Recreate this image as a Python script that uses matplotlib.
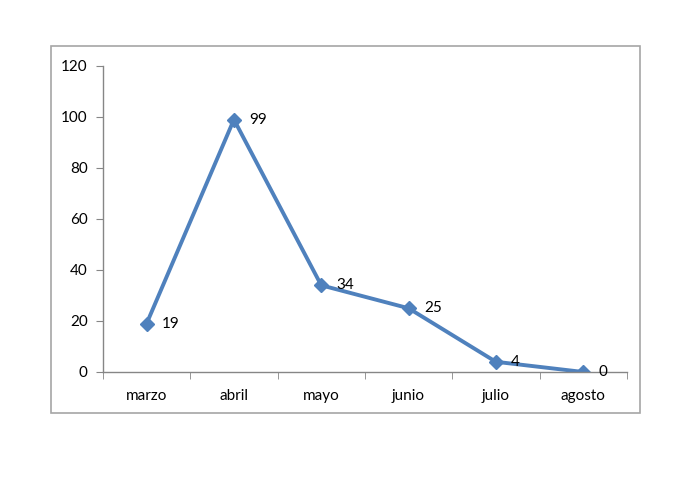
import matplotlib
matplotlib.use("Agg")
import matplotlib.pyplot as plt
from matplotlib.patches import Rectangle

months = ["marzo", "abril", "mayo", "junio", "julio", "agosto"]
counts = [19, 99, 34, 25, 4, 0]
y_ticks = [0, 20, 40, 60, 80, 100, 120]

plt.rcParams["font.family"] = ["Lato", "DejaVu Sans"]

fig = plt.figure(figsize=(6.92, 4.86), dpi=100)
fig.patch.set_facecolor("white")

# outer chart border
fig.patches.append(Rectangle((0.0737, 0.1502), 0.851, 0.755, transform=fig.transFigure,
                             fill=False, edgecolor="#a6a6a6", linewidth=1.2))

ax = fig.add_axes([0.1488, 0.2346, 0.757, 0.6296])
x = list(range(len(months)))
line_color = "#4f81bd"
ax.plot(x, counts, color=line_color, linewidth=2.8, marker="D", markersize=7,
        markerfacecolor=line_color, markeredgecolor=line_color)

for xi, v in zip(x, counts):
    ax.annotate(str(v), (xi, v), xytext=(11, 0), textcoords="offset points",
                va="center", ha="left", fontsize=11, color="black")

ax.set_xlim(-0.5, len(months) - 0.5)
ax.set_ylim(0, 120)
ax.set_yticks(y_ticks)
ax.set_yticklabels([str(t) for t in y_ticks], fontsize=11)

# category labels centered, tick marks at boundaries
ax.set_xticks(x)
ax.set_xticklabels(months, fontsize=11)
ax.tick_params(axis="x", which="major", length=0, pad=12)
ax.set_xticks([i - 0.5 for i in range(len(months) + 1)], minor=True)
ax.tick_params(axis="x", which="minor", length=5, color="#868686", direction="out")
ax.tick_params(axis="y", length=5, color="#868686", direction="out", pad=6)

for side in ["top", "right"]:
    ax.spines[side].set_visible(False)
for side in ["left", "bottom"]:
    ax.spines[side].set_color("#868686")
    ax.spines[side].set_linewidth(1.0)

ax.set_facecolor("white")
fig.savefig("out.png", dpi=100)
